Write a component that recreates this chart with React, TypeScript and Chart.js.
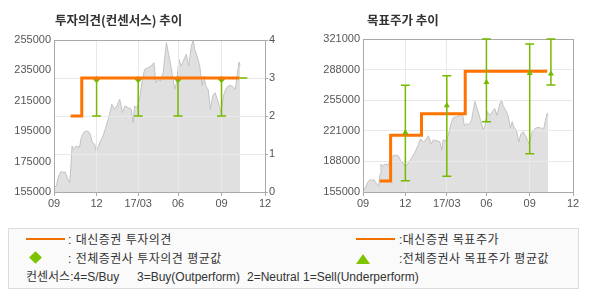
import React, { useEffect, useRef } from "react";
import { Chart, registerables } from "chart.js";

Chart.register(...registerables);

// ---- axis ticks (x values are days since 2016-09-01) ----
const X_TICK_DAYS = [0, 92, 182, 268, 362, 456];
const X_TICK_LABELS = ["09", "12", "17/03", "06", "09", "12"];

const LEFT_Y_MIN = 155000;
const LEFT_Y_MAX = 255000;
const LEFT_Y_STEP = 20000;
const OPINION_MIN = 0;
const OPINION_MAX = 4;

const RIGHT_Y_TICKS = [155000, 188200, 221400, 254600, 287800, 321000];
const RIGHT_Y_LABELS = ["155000", "188000", "221000", "255000", "288000", "321000"];

// ---- stock price ----
const PRICE_DAYS = [
  0, 5, 10, 16, 19, 24, 30, 34, 37, 39, 42, 48, 55, 59, 64, 70, 77, 83, 88, 91,
  95, 99, 106, 113, 120, 125, 131, 136, 142, 148, 153, 160, 167, 171, 174, 179,
  185, 191, 196, 203, 210, 216, 220, 225, 230, 236, 239, 243, 247, 252, 256, 261,
  265, 270, 275, 281, 286, 291, 297, 301, 304, 309, 315, 320, 324, 328, 333, 338,
  343, 348, 353, 357, 361, 364, 367, 373, 380, 387, 392, 396, 400, 402,
];
const PRICE_VALUES = [
  157900, 159000, 165500, 168800, 167700, 168200, 163400, 161200, 174300, 185300,
  183100, 185300, 184200, 190800, 194100, 195200, 194100, 187500, 186400, 182000,
  184200, 187500, 191900, 198400, 206100, 212700, 209400, 211600, 216000, 207200,
  211600, 210500, 209400, 200600, 211600, 210500, 216000, 229100, 235700, 236800,
  237900, 240100, 227000, 229100, 228000, 233500, 242300, 253300, 246700, 239000,
  231300, 222600, 227000, 242300, 237900, 242300, 245600, 237900, 251100, 255000,
  248900, 244500, 237900, 224800, 231300, 224800, 222600, 209400, 218200, 220400,
  216000, 211600, 207200, 213800, 219300, 223700, 225200, 224300, 222600, 232400,
  240500, 238000,
];

// ---- Daishin investment opinion (4=S/Buy ... 1=Sell) ----
const OPINION_DAYS = [36, 60, 400];
const OPINION_VALUES = [2, 3, 3];

// ---- consensus opinion range / mean ----
const CONS_OPINION_DAYS = [92, 182, 268, 362, 408];
const CONS_OPINION_LOW = [2, 2, 2, 2, 3];
const CONS_OPINION_HIGH = [3, 3, 3, 3, 3];
const CONS_OPINION_MEAN = [2.96, 2.96, 2.96, 2.96, null];

// ---- Daishin target price ----
const TARGET_DAYS = [36, 60, 127, 222, 400];
const TARGET_VALUES = [167000, 216500, 240000, 286000, 286000];

// ---- consensus target range / mean ----
const CONS_TARGET_DAYS = [92, 182, 268, 362, 408];
const CONS_TARGET_LOW = [167300, 172000, 231200, 196500, 271200];
const CONS_TARGET_HIGH = [270800, 281000, 321000, 315600, 321000];
const CONS_TARGET_MEAN = [219600, 248800, 274000, 283800, 283400];

const ORANGE = "#ff7300";
const GREEN = "#78b800";
const AREA = "#e0e0e0";
const AREA_LINE = "#c2c2c2";
const GRID = "#e9e9e9";
const AXIS = "#aaaaaa";
const TICK_FONT = { family: "'Liberation Sans', Arial, sans-serif", size: 11 };
const TICK_COLOR = "#555";
const KR = "'Noto Sans CJK KR', sans-serif";
const LEGEND_FONT = "'Liberation Sans', 'Noto Sans CJK KR', sans-serif";

const pts = (xs: number[], ys: (number | null)[]) =>
  xs.map((x, i) => ({ x, y: ys[i] }));

// Redraw grid over the price area, then the plot frame
const afterPricePlugin = {
  id: "afterPrice",
  afterDatasetDraw(chart: any, args: any) {
    if (args.index !== 0) return;
    Object.values(chart.scales).forEach((s: any) => s.drawGrid(chart.chartArea));
    const { left, top, right, bottom } = chart.chartArea;
    const ctx = chart.ctx;
    ctx.save();
    ctx.strokeStyle = AXIS;
    ctx.lineWidth = 1;
    ctx.strokeRect(left + 0.5, top + 0.5, right - left, bottom - top);
    ctx.restore();
  },
};

function makeErrorBars(
  days: number[],
  low: number[],
  high: number[],
  yId: string,
  afterIndex: number
) {
  return {
    id: "errorBars",
    afterDatasetDraw(chart: any, args: any) {
      if (args.index !== afterIndex) return;
      const xs = chart.scales.x;
      const ys = chart.scales[yId];
      const ctx = chart.ctx;
      ctx.save();
      ctx.strokeStyle = GREEN;
      ctx.lineWidth = 1.5;
      days.forEach((d, i) => {
        const x = xs.getPixelForValue(d);
        const yl = ys.getPixelForValue(low[i]);
        const yh = ys.getPixelForValue(high[i]);
        ctx.beginPath();
        ctx.moveTo(x, yl);
        ctx.lineTo(x, yh);
        ctx.moveTo(x - 4.5, yl);
        ctx.lineTo(x + 4.5, yl);
        ctx.moveTo(x - 4.5, yh);
        ctx.lineTo(x + 4.5, yh);
        ctx.stroke();
      });
      ctx.restore();
    },
  };
}

const xScale = {
  type: "linear" as const,
  min: X_TICK_DAYS[0],
  max: X_TICK_DAYS[X_TICK_DAYS.length - 1],
  afterBuildTicks: (s: any) => {
    s.ticks = X_TICK_DAYS.map((v) => ({ value: v }));
  },
  afterFit: (s: any) => {
    s.height = 23;
  },
  grid: { color: GRID, tickColor: AXIS, tickLength: 4 },
  border: { color: AXIS },
  ticks: {
    autoSkip: false,
    maxRotation: 0,
    padding: 1,
    font: TICK_FONT,
    color: TICK_COLOR,
    callback: (_v: any, i: number) => X_TICK_LABELS[i],
  },
};

const priceDataset = (yAxisID: string) => ({
  type: "line" as const,
  data: pts(PRICE_DAYS, PRICE_VALUES),
  yAxisID,
  borderColor: AREA_LINE,
  borderWidth: 1,
  backgroundColor: AREA,
  fill: "start",
  pointRadius: 0,
  tension: 0,
  order: 10,
});

export default function App() {
  const leftRef = useRef<HTMLCanvasElement>(null);
  const rightRef = useRef<HTMLCanvasElement>(null);

  useEffect(() => {
    const left = new Chart(leftRef.current as HTMLCanvasElement, {
      type: "line",
      data: {
        datasets: [
          priceDataset("y") as any,
          {
            type: "scatter",
            data: pts(CONS_OPINION_DAYS, CONS_OPINION_MEAN),
            yAxisID: "y1",
            pointStyle: "rectRot",
            pointRadius: 3.5,
            backgroundColor: GREEN,
            borderWidth: 0,
            order: 5,
          },
          {
            type: "line",
            data: pts(OPINION_DAYS, OPINION_VALUES),
            yAxisID: "y1",
            stepped: "before",
            borderColor: ORANGE,
            borderWidth: 3,
            pointRadius: 0,
            fill: false,
            order: 1,
          },
        ],
      },
      options: {
        responsive: false,
        animation: false,
        layout: { padding: { top: 40, left: 0, right: 0, bottom: 0 } },
        plugins: { legend: { display: false }, tooltip: { enabled: false } },
        scales: {
          x: xScale as any,
          y: {
            type: "linear",
            position: "left",
            min: LEFT_Y_MIN,
            max: LEFT_Y_MAX,
            afterFit: (s: any) => {
              s.width = 54;
            },
            grid: { drawOnChartArea: false, drawTicks: false },
            border: { color: AXIS },
            ticks: {
              stepSize: LEFT_Y_STEP,
              padding: 3,
              font: TICK_FONT,
              color: TICK_COLOR,
              callback: (v: any) => String(v),
            },
          },
          y1: {
            type: "linear",
            position: "right",
            min: OPINION_MIN,
            max: OPINION_MAX,
            afterFit: (s: any) => {
              s.width = 30;
            },
            grid: { color: GRID, tickColor: AXIS, tickLength: 3 },
            border: { color: AXIS },
            ticks: {
              stepSize: 1,
              padding: 1,
              font: TICK_FONT,
              color: TICK_COLOR,
              callback: (v: any) => String(v),
            },
          },
        },
      },
      plugins: [
        afterPricePlugin,
        makeErrorBars(CONS_OPINION_DAYS, CONS_OPINION_LOW, CONS_OPINION_HIGH, "y1", 0),
      ],
    });

    const right = new Chart(rightRef.current as HTMLCanvasElement, {
      type: "line",
      data: {
        datasets: [
          priceDataset("y") as any,
          {
            type: "line",
            data: pts(TARGET_DAYS, TARGET_VALUES),
            yAxisID: "y",
            stepped: "before",
            borderColor: ORANGE,
            borderWidth: 3,
            pointRadius: 0,
            fill: false,
            order: 5,
          },
          {
            type: "scatter",
            data: pts(CONS_TARGET_DAYS, CONS_TARGET_MEAN),
            yAxisID: "y",
            pointStyle: "triangle",
            pointRadius: 3.5,
            backgroundColor: GREEN,
            borderWidth: 0,
            order: 1,
          },
        ],
      },
      options: {
        responsive: false,
        animation: false,
        layout: { padding: { top: 39, left: 0, right: 17, bottom: 0 } },
        plugins: { legend: { display: false }, tooltip: { enabled: false } },
        scales: {
          x: xScale as any,
          y: {
            type: "linear",
            position: "left",
            min: RIGHT_Y_TICKS[0],
            max: RIGHT_Y_TICKS[RIGHT_Y_TICKS.length - 1],
            afterBuildTicks: (s: any) => {
              s.ticks = RIGHT_Y_TICKS.map((v) => ({ value: v }));
            },
            afterFit: (s: any) => {
              s.width = 68;
            },
            grid: { color: GRID, drawTicks: false },
            border: { color: AXIS },
            ticks: {
              padding: 3,
              font: TICK_FONT,
              color: TICK_COLOR,
              callback: (_v: any, i: number) => RIGHT_Y_LABELS[i],
            },
          },
        },
      },
      plugins: [
        afterPricePlugin,
        makeErrorBars(CONS_TARGET_DAYS, CONS_TARGET_LOW, CONS_TARGET_HIGH, "y", 1),
      ],
    });

    return () => {
      left.destroy();
      right.destroy();
    };
  }, []);

  const txt = (left: number, top: number, s: string, extra: any = {}) => (
    <div
      style={{
        position: "absolute",
        left,
        top,
        fontFamily: LEGEND_FONT,
        fontSize: 12,
        lineHeight: "14px",
        color: "#333",
        whiteSpace: "pre",
        ...extra,
      }}
    >
      {s}
    </div>
  );
  const kr = { letterSpacing: "0.5px" };

  return (
    <div
      style={{
        position: "absolute",
        left: 0,
        top: 0,
        width: 590,
        height: 300,
        background: "#fff",
        overflow: "hidden",
      }}
    >
      <canvas
        ref={leftRef}
        width={295}
        height={215}
        style={{ position: "absolute", left: 0, top: 0, width: 295, height: 215 }}
      />
      <canvas
        ref={rightRef}
        width={295}
        height={215}
        style={{ position: "absolute", left: 295, top: 0, width: 295, height: 215 }}
      />
      {txt(55, 12, "투자의견(컨센서스) 추이", { fontFamily: KR, fontWeight: 700, fontSize: 12.5, lineHeight: "16px" })}
      {txt(367, 12, "목표주가 추이", { fontFamily: KR, fontWeight: 700, fontSize: 12.5, lineHeight: "16px" })}

      <div
        style={{
          position: "absolute",
          left: 8,
          top: 228,
          width: 571,
          height: 61,
          boxSizing: "border-box",
          border: "1px solid #dcdcdc",
          background: "#fafafa",
        }}
      />
      <div style={{ position: "absolute", left: 26, top: 237.5, width: 39, height: 2.5, background: "#f07000" }} />
      {txt(68, 233, ": 대신증권 투자의견", kr)}
      <div
        style={{
          position: "absolute",
          left: 30.5,
          top: 253.2,
          width: 9,
          height: 9,
          background: "#7dc300",
          transform: "rotate(45deg)",
        }}
      />
      {txt(68, 252, ": 전체증권사 투자의견 평균값", kr)}
      {txt(26, 270, "컨센서스:4=S/Buy")}
      {txt(137, 270, "3=Buy(Outperform)")}
      {txt(247, 270, "2=Neutral")}
      {txt(303, 270, "1=Sell(Underperform)")}

      <div style={{ position: "absolute", left: 356, top: 237.5, width: 39, height: 2.5, background: "#f07000" }} />
      {txt(399, 233, ":대신증권 목표주가", kr)}
      <div
        style={{
          position: "absolute",
          left: 356,
          top: 254,
          width: 0,
          height: 0,
          borderLeft: "7px solid transparent",
          borderRight: "7px solid transparent",
          borderBottom: "10px solid #7dc300",
        }}
      />
      {txt(399, 252, ":전체증권사 목표주가 평균값", kr)}
    </div>
  );
}
